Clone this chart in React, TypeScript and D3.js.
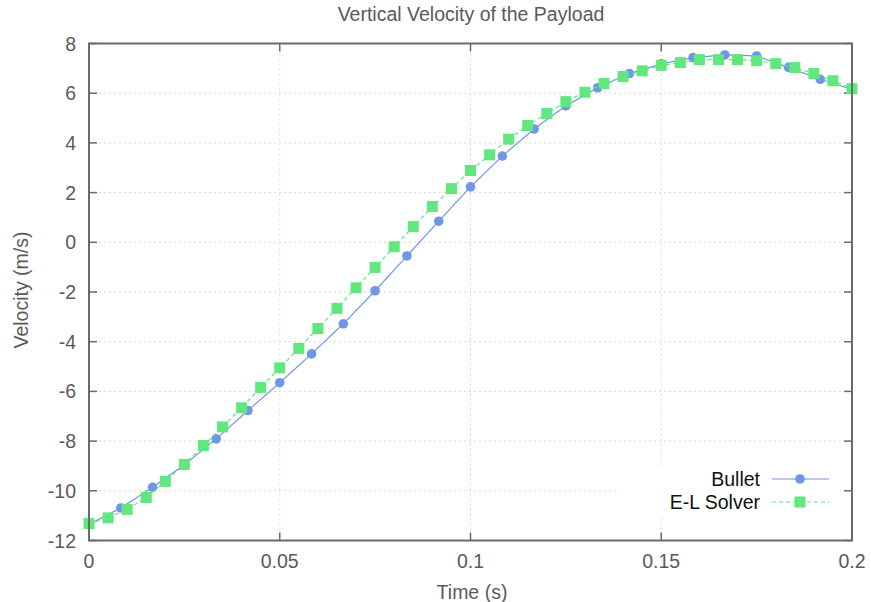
import React from "react";
import * as d3 from "d3";

const bulletTime: number[] = d3.range(25).map((k) => k / 120);
const bulletVelocity: number[] = [
  -11.35, -10.69, -9.86, -8.95, -7.91, -6.77, -5.65, -4.49, -3.28, -1.95, -0.55,
  0.85, 2.23, 3.47, 4.56, 5.49, 6.22, 6.79, 7.18, 7.43, 7.54, 7.5, 7.04, 6.56, 6.15,
];

const elTime: number[] = d3.range(41).map((k) => k * 0.005);
const elVelocity: number[] = [
  -11.32, -11.09, -10.75, -10.27, -9.62, -8.94, -8.18, -7.43, -6.66, -5.84, -5.05,
  -4.27, -3.47, -2.66, -1.83, -1.01, -0.18, 0.63, 1.44, 2.16, 2.89, 3.52, 4.15,
  4.7, 5.18, 5.66, 6.04, 6.39, 6.67, 6.9, 7.12, 7.23, 7.35, 7.35, 7.35, 7.31,
  7.19, 7.03, 6.79, 6.5, 6.18,
];

const xTicks: number[] = [0, 0.05, 0.1, 0.15, 0.2];
const xTickLabels: string[] = ["0", "0.05", "0.1", "0.15", "0.2"];
const yTicks: number[] = [-12, -10, -8, -6, -4, -2, 0, 2, 4, 6, 8];

const W = 871;
const H = 602;
const M = { left: 89, right: 852, top: 43.5, bottom: 540.5 };
const BLUE = "#7096e8";
const GREEN = "#62e67e";
const FRAME = "#6a6a6a";
const TEXT = "#5a5a5a";
const GRID = "#d9d9c4";
const FONT = "'Liberation Sans', Arial, Helvetica, sans-serif";
const FS = 19.5;

export default function App() {
  const x = d3.scaleLinear().domain([0, 0.2]).range([M.left, M.right]);
  const y = d3.scaleLinear().domain([-12, 8]).range([M.bottom, M.top]);

  const bullet = bulletTime.map((t, i) => [t, bulletVelocity[i]] as [number, number]);
  const el = elTime.map((t, i) => [t, elVelocity[i]] as [number, number]);
  const line = d3
    .line<[number, number]>()
    .x((d) => x(d[0]))
    .y((d) => y(d[1]));

  const tickLen = 8;
  const legX0 = 772;
  const legX1 = 829;
  const legXm = 800;
  const leg1Y = 479;
  const leg2Y = 502;

  return (
    <svg
      width={W}
      height={H}
      style={{ position: "absolute", left: 0, top: 0, background: "#fff" }}
      fontFamily={FONT}
    >
      <rect x={0} y={0} width={W} height={H} fill="#fff" />
      {/* grid */}
      <g stroke={GRID} strokeWidth={1} strokeDasharray="2,3">
        {xTicks.slice(1, -1).map((t) => (
          <line key={"gx" + t} x1={x(t)} x2={x(t)} y1={M.top} y2={M.bottom} />
        ))}
        {yTicks.slice(1, -1).map((t) => (
          <line key={"gy" + t} x1={M.left} x2={M.right} y1={y(t)} y2={y(t)} />
        ))}
      </g>
      {/* legend background */}
      <rect x={620} y={465} width={220} height={50} fill="#fff" />
      {/* ticks */}
      <g stroke={FRAME} strokeWidth={1.5}>
        {xTicks.map((t) => (
          <g key={"tx" + t}>
            <line x1={x(t)} x2={x(t)} y1={M.bottom} y2={M.bottom - tickLen} />
            <line x1={x(t)} x2={x(t)} y1={M.top} y2={M.top + tickLen} />
          </g>
        ))}
        {yTicks.map((t) => (
          <g key={"ty" + t}>
            <line x1={M.left} x2={M.left + tickLen} y1={y(t)} y2={y(t)} />
            <line x1={M.right} x2={M.right - tickLen} y1={y(t)} y2={y(t)} />
          </g>
        ))}
      </g>
      {/* tick labels */}
      <g fill={TEXT} fontSize={FS}>
        {xTicks.map((t, i) => (
          <text key={"lx" + t} x={x(t)} y={M.bottom + 27.5} textAnchor="middle">
            {xTickLabels[i]}
          </text>
        ))}
        {yTicks.map((t) => (
          <text key={"ly" + t} x={M.left - 13} y={y(t) + 7} textAnchor="end">
            {t}
          </text>
        ))}
      </g>
      {/* series: Bullet */}
      <path d={line(bullet) || ""} fill="none" stroke={BLUE} strokeWidth={1.2} />
      {bullet.map((d, i) => (
        <circle key={"b" + i} cx={x(d[0])} cy={y(d[1])} r={4.8} fill={BLUE} />
      ))}
      {/* series: E-L */}
      <path
        d={line(el) || ""}
        fill="none"
        stroke={GREEN}
        strokeWidth={1.2}
        strokeDasharray="4,3"
      />
      {el.map((d, i) => (
        <rect
          key={"e" + i}
          x={x(d[0]) - 5.5}
          y={y(d[1]) - 5.5}
          width={11}
          height={11}
          fill={GREEN}
        />
      ))}
      {/* frame */}
      <rect
        x={M.left}
        y={M.top}
        width={M.right - M.left}
        height={M.bottom - M.top}
        fill="none"
        stroke={FRAME}
        strokeWidth={2}
      />
      {/* legend */}
      <g fontSize={FS} fill="#111">
        <text x={760} y={leg1Y + 6.7} textAnchor="end">Bullet</text>
        <text x={760} y={leg2Y + 6.5} textAnchor="end">E-L Solver</text>
      </g>
      <line x1={legX0} x2={legX1} y1={leg1Y} y2={leg1Y} stroke={BLUE} strokeWidth={1.2} />
      <circle cx={legXm} cy={leg1Y} r={4.8} fill={BLUE} />
      <line
        x1={legX0}
        x2={legX1}
        y1={leg2Y}
        y2={leg2Y}
        stroke={GREEN}
        strokeWidth={1.2}
        strokeDasharray="4,3"
      />
      <rect x={legXm - 5.5} y={leg2Y - 5.5} width={11} height={11} fill={GREEN} />
      {/* titles */}
      <text x={471} y={21} textAnchor="middle" fontSize={FS} fill={TEXT}>
        Vertical Velocity of the Payload
      </text>
      <text x={472} y={599} textAnchor="middle" fontSize={FS} fill={TEXT}>
        Time (s)
      </text>
      <text
        transform={`translate(28,290) rotate(-90)`}
        textAnchor="middle"
        fontSize={FS}
        fill={TEXT}
      >
        Velocity (m/s)
      </text>
    </svg>
  );
}
